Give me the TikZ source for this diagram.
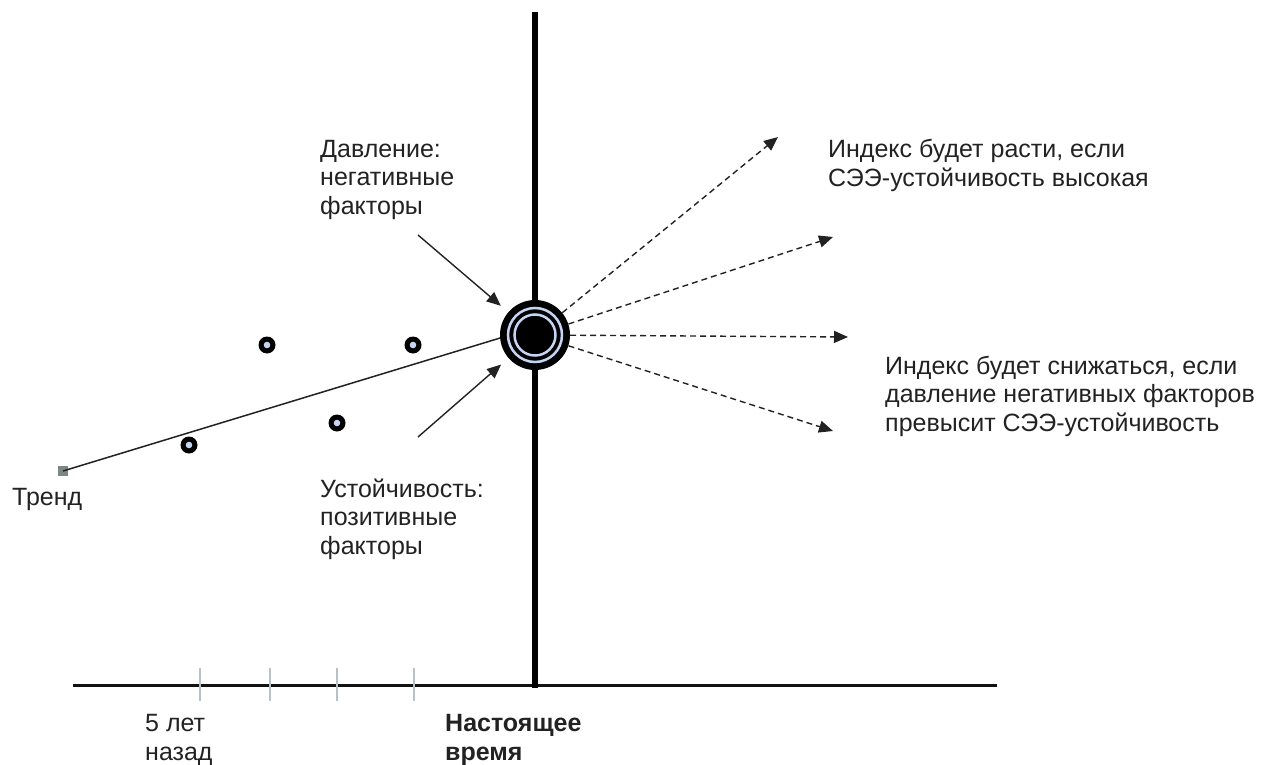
\documentclass[tikz,border=0pt]{standalone}
\usepackage{fontspec}
\setmainfont{Liberation Sans}
\usetikzlibrary{arrows.meta}
\definecolor{ink}{HTML}{222222}
\definecolor{ringblue}{HTML}{C4D4F2}
\definecolor{tickgray}{HTML}{B8C0C8}
\definecolor{trendsq}{HTML}{7D8784}
\begin{document}
\begin{tikzpicture}[x=1pt,y=-1pt,
  lbl/.style={font=\fontsize{25}{28.5}\selectfont, text=ink, align=left, inner sep=0pt, anchor=base west},
  boldlbl/.style={lbl, font=\fontsize{25}{28.5}\selectfont\bfseries},
  tip/.style={-{Triangle[length=14pt,width=12pt]}},
  forecast/.style={tip, dash pattern=on 6pt off 4pt, line width=1.4pt, draw=ink},
  force/.style={tip, line width=1.4pt, draw=ink, shorten >=45pt},
  tickmark/.style={draw=tickgray, line width=1.5pt},
  obs/.style={circle, fill=black, minimum size=17pt, inner sep=0pt},
]
\useasboundingbox (0,0) rectangle (1261,765);

% time axis and the present-time line
\draw[line width=3pt, draw=black!93] (73,685) -- (997,685);
\draw[line width=6pt] (535,12) -- (535,688);
\foreach \x in {200,270,337,414}
  \draw[tickmark] (\x,668) -- (\x,701);

% present state: index as a target circle
\node[circle, fill=black, minimum size=70pt, inner sep=0pt] (now) at (535,335) {};
\draw[ringblue, line width=2.5pt] (now.center) circle[radius=27];
\draw[ringblue, line width=2.5pt] (now.center) circle[radius=20.5];

% past observations
\foreach \n/\px/\py in {a/189/445, b/267/345, c/337/423, d/413/345} {
  \node[obs] (obs\n) at (\px,\py) {};
  \fill[ringblue] (obs\n.center) circle[radius=3.3];
}

% trend line
\node[fill=trendsq, minimum size=10pt, inner sep=0pt] (start) at (63,471) {};
\draw[line width=1.5pt, draw=ink] (start.center) -- (now.185);

% pressure and resilience acting on the present
\coordinate (pressTail) at (418,235);
\coordinate (resTail) at (418,437);
\draw[force] (pressTail) -- (now.center);
\draw[force] (resTail) -- (now.center);

% possible future paths
\coordinate (f1) at (778,137);
\coordinate (f2) at (833,237);
\coordinate (f3) at (848,337);
\coordinate (f4) at (833,431);
\foreach \f in {f1,f2,f3,f4}
  \draw[forecast] (now) -- (\f);

% labels (anchored at the baseline of the last line)
\node[lbl] (press) at (320,214) {Давление:\\негативные\\факторы};
\node[lbl] (res) at (320,554) {Устойчивость:\\позитивные\\факторы};
\node[lbl] (trend) at (12,505) {Тренд};
\node[lbl] (grow) at (828,186) {Индекс будет расти, если\\СЭЭ-устойчивость высокая};
\node[lbl] (fall) at (885,431) {Индекс будет снижаться, если\\давление негативных факторов\\превысит СЭЭ-устойчивость};
\node[lbl] (past) at (145,760) {5 лет\\назад};
\node[boldlbl] (present) at (445,760) {Настоящее\\время};
\end{tikzpicture}
\end{document}
